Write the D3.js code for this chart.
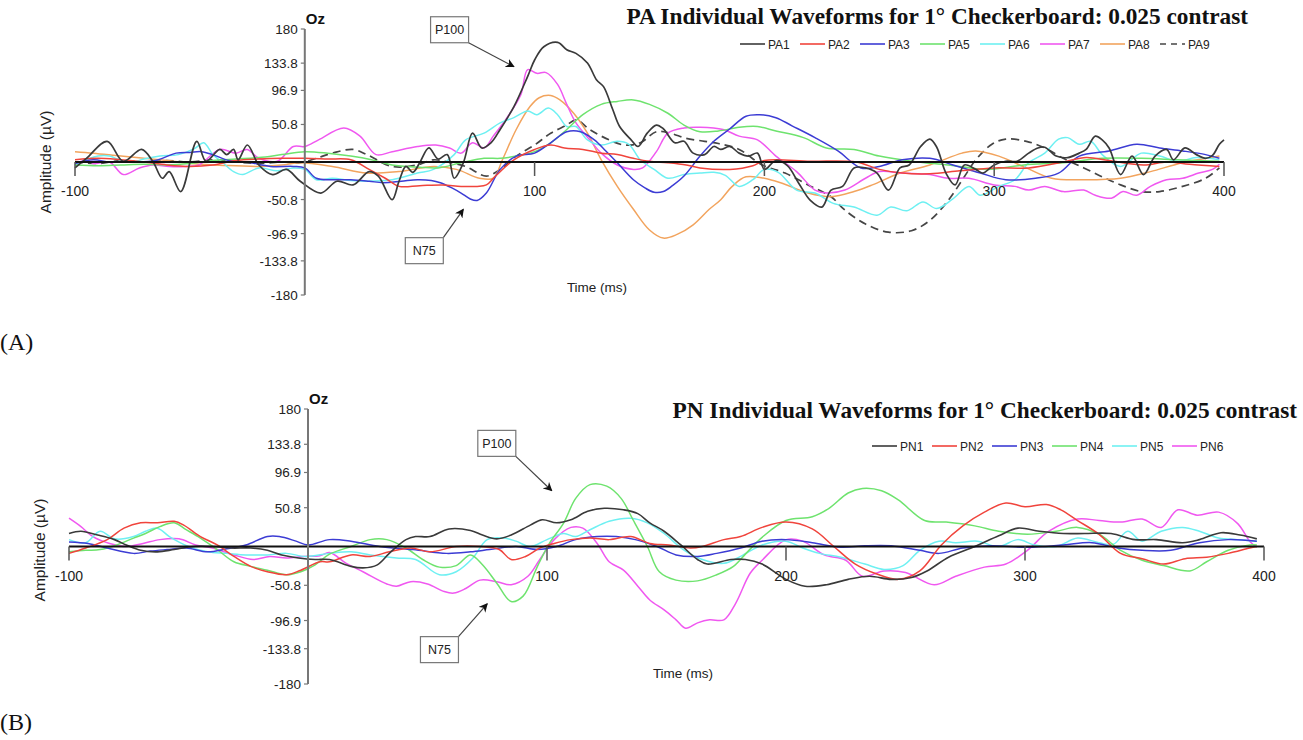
<!DOCTYPE html>
<html>
<head>
<meta charset="utf-8">
<script src="https://cdn.jsdelivr.net/npm/d3@7"></script>
<style>
  body { margin: 0; background: #fff; }
  svg { display: block; }
</style>
</head>
<body>
<svg id="chart" width="1303" height="740"></svg>
<script>
// ---- shared axis values ----
const timeTicks = [-100, 100, 200, 300, 400];
const ampTicks = [180, 133.8, 96.9, 50.8, -50.8, -96.9, -133.8, -180];

// ---- panel A: PA individual waveforms, [time ms, amplitude µV] ----
const paNames = ["PA1", "PA2", "PA3", "PA5", "PA6", "PA7", "PA8", "PA9"];
const PA1 = [[-100,-8],[-95,5],[-86,28],[-79,1],[-71,17],[-66,0],[-62,-22],[-59,-13],[-54,-40],[-47,28],[-43,1],[-37,17],[-34,10],[-31,17],[-29,3],[-25,23],[-20,-4],[-14,-17],[-8,-10],[-2,-26],[7,-42],[14,-26],[21,-31],[28,-13],[32,-19],[38,-51],[41,-26],[44,-6],[47,-14],[50,-1],[54,19],[58,4],[62,10],[65,-22],[69,-1],[73,39],[77,19],[81,26],[85,44],[91,75],[97,116],[100,138],[104,156],[110,162],[114,152],[118,147],[123,134],[127,111],[130,102],[134,71],[137,48],[142,30],[145,21],[149,39],[153,50],[156,45],[161,26],[165,28],[169,12],[174,10],[178,21],[181,17],[185,21],[189,12],[193,8],[197,12],[200,-10],[205,2],[210,-5],[215,-29],[220,-52],[225,-61],[229,-38],[234,-33],[239,-8],[244,-8],[249,-15],[254,-38],[259,-8],[263,-4],[268,21],[272,31],[275,20],[279,-15],[283,-31],[287,-4],[292,-10],[295,-15],[300,-4],[305,1],[310,1],[315,12],[319,19],[322,20],[327,8],[332,6],[337,12],[340,17],[344,35],[347,30],[350,19],[355,-17],[360,8],[365,-17],[370,8],[375,17],[378,3],[383,19],[388,10],[392,5],[395,9],[398,24],[400,30]];
const PA2 = [[-100,3],[-90,5],[-80,3],[-70,0],[-60,-4],[-50,-6],[-40,-4],[-30,2],[-20,4],[-10,5],[0,5],[10,4],[20,3],[28,-10],[35,-22],[41,-33],[50,-32],[60,-31],[68,-33],[75,-33],[79,-31],[83,-19],[91,3],[100,17],[107,23],[113,19],[121,17],[129,12],[136,10],[143,5],[150,1],[158,-1],[166,-4],[172,-8],[185,-10],[195,-5],[200,2],[220,1],[240,0],[250,-10],[260,-15],[272,-16],[285,-12],[300,-8],[315,-8],[330,0],[340,6],[350,2],[365,-4],[375,0],[385,-3],[398,-6]];
const PA3 = [[-100,-2],[-92,3],[-85,0],[-75,0],[-65,2],[-56,12],[-50,13],[-45,14],[-40,10],[-33,2],[-25,0],[-15,-6],[-5,-6],[0,-8],[5,-22],[12,-24],[20,-24],[28,-26],[34,-28],[42,-26],[49,-24],[55,-25],[59,-28],[64,-35],[68,-42],[72,-50],[75,-52],[79,-42],[85,-10],[92,8],[100,12],[107,26],[114,41],[120,41],[126,30],[131,15],[136,-1],[143,-24],[148,-35],[152,-41],[156,-40],[160,-32],[165,-19],[172,8],[178,28],[185,45],[192,62],[198,64],[205,60],[212,49],[222,33],[232,15],[242,-8],[250,-6],[260,3],[272,5],[282,-4],[294,-15],[305,-24],[318,-22],[328,-15],[337,8],[350,15],[362,24],[372,19],[382,15],[392,10],[398,5]];
const PA5 = [[-100,-4],[-90,-5],[-80,-4],[-70,-3],[-60,-4],[-50,-2],[-40,2],[-30,4],[-20,6],[-10,10],[0,14],[10,12],[20,8],[29,3],[38,-4],[50,-7],[58,-8],[68,-1],[78,5],[85,5],[92,8],[100,14],[107,26],[114,44],[121,64],[129,78],[136,82],[143,84],[150,78],[158,66],[165,50],[172,41],[180,42],[189,47],[197,48],[205,42],[217,33],[227,19],[239,17],[250,8],[264,1],[280,-4],[297,-10],[313,-4],[330,-1],[347,5],[364,5],[380,3],[398,1]];
const PA6 = [[-100,-4],[-95,3],[-90,8],[-85,8],[-80,2],[-75,0],[-70,4],[-63,8],[-55,10],[-48,18],[-44,26],[-40,10],[-36,0],[-31,-13],[-27,-17],[-20,-8],[-12,-12],[-5,-8],[0,-10],[5,-24],[12,-22],[20,-25],[27,-26],[38,-24],[49,-15],[56,-10],[65,10],[70,30],[78,39],[85,53],[91,60],[97,69],[101,64],[106,73],[110,64],[114,48],[118,48],[123,30],[129,23],[136,28],[141,24],[146,3],[152,-10],[158,-22],[165,-17],[172,-15],[178,-14],[183,-18],[189,-33],[195,-24],[200,-10],[206,-14],[214,-38],[222,-42],[230,-56],[239,-61],[249,-72],[255,-61],[262,-66],[269,-54],[275,-63],[282,-50],[289,-33],[294,-45],[302,-33],[309,-24],[315,-1],[322,12],[328,31],[332,33],[337,24],[342,28],[347,10],[355,-6],[364,12],[372,8],[380,1],[388,6],[398,3]];
const PA7 = [[-100,-4],[-95,3],[-92,-2],[-85,0],[-79,-17],[-72,-8],[-66,-4],[-59,-6],[-52,-6],[-46,-4],[-37,17],[-30,12],[-25,17],[-20,5],[-12,1],[-5,21],[0,21],[6,30],[17,46],[24,35],[31,10],[38,14],[49,21],[57,23],[63,19],[68,12],[73,26],[78,19],[82,35],[88,60],[94,91],[97,125],[101,120],[105,121],[110,105],[114,78],[118,53],[124,30],[129,12],[136,-4],[143,-10],[147,-8],[153,14],[158,39],[165,46],[172,47],[182,44],[189,35],[197,30],[205,8],[214,-13],[222,-38],[227,-42],[235,-38],[244,-22],[250,-13],[260,-15],[272,-17],[280,-22],[289,-22],[300,-31],[309,-33],[315,-38],[322,-33],[330,-40],[339,-38],[344,-45],[351,-49],[356,-40],[362,-45],[368,-33],[375,-24],[382,-22],[389,-15],[395,-10],[398,-3]];
const PA8 = [[-100,14],[-92,12],[-80,8],[-70,5],[-60,2],[-50,-2],[-40,-4],[-30,-5],[-20,-6],[-10,-4],[-2,-1],[12,-6],[27,-15],[41,-13],[56,-6],[66,-10],[76,-22],[82,-22],[86,3],[92,44],[98,75],[102,87],[107,90],[111,84],[117,66],[123,39],[129,3],[136,-33],[143,-64],[150,-92],[156,-103],[162,-98],[169,-85],[176,-64],[181,-51],[186,-33],[192,-20],[205,-26],[219,-42],[229,-47],[239,-40],[247,-31],[259,-15],[272,-4],[286,12],[292,15],[302,8],[314,-8],[325,-22],[339,-24],[355,-22],[368,-13],[382,-1],[398,8]];
const PA9 = [[-100,0],[-90,-2],[-80,2],[-70,0],[-60,2],[-50,0],[-40,3],[-30,0],[-20,-2],[-10,0],[-2,-1],[5,5],[12,12],[21,17],[27,10],[38,-6],[49,-4],[56,3],[62,0],[70,-6],[79,-19],[85,-10],[92,8],[100,23],[107,39],[114,50],[118,57],[124,44],[131,32],[139,23],[146,26],[153,41],[159,39],[166,32],[174,28],[180,25],[189,17],[199,-4],[209,-15],[219,-31],[229,-47],[235,-65],[244,-84],[254,-95],[264,-93],[272,-79],[280,-52],[287,-20],[292,3],[299,24],[305,31],[314,28],[322,19],[330,5],[339,-8],[347,-20],[355,-31],[364,-40],[372,-40],[382,-33],[392,-22],[398,-8]];

// ---- panel B: PN individual waveforms, [time ms, amplitude µV] ----
const pnNames = ["PN1", "PN2", "PN3", "PN4", "PN5", "PN6"];
const PN1 = [[-100,17],[-95,20],[-88,15],[-81,9],[-76,2],[-70,-5],[-63,-7],[-56,-4],[-48,0],[-40,0],[-32,-2],[-24,-2],[-17,-5],[-11,-11],[-4,-15],[3,-17],[9,-17],[18,-26],[23,-28],[29,-24],[34,-9],[41,9],[45,13],[51,13],[59,23],[68,21],[73,15],[79,10],[85,15],[93,28],[98,35],[104,31],[110,35],[117,46],[124,50],[132,48],[138,43],[143,31],[149,20],[156,2],[163,-17],[167,-23],[177,-17],[183,-17],[190,-23],[200,-43],[208,-52],[217,-50],[226,-43],[235,-39],[244,-43],[252,-41],[259,-32],[268,-14],[279,0],[289,14],[297,24],[306,20],[316,17],[325,17],[336,17],[346,9],[355,9],[366,5],[373,9],[382,18],[390,15],[397,10]];
const PN2 = [[-100,-9],[-93,-2],[-84,9],[-77,24],[-70,31],[-63,31],[-56,33],[-52,28],[-45,13],[-38,2],[-31,-13],[-24,-26],[-17,-33],[-9,-37],[-3,-31],[5,-20],[9,-20],[18,-11],[26,-13],[34,-7],[43,-2],[51,-7],[62,0],[72,0],[80,-4],[85,-17],[91,-13],[97,-2],[103,4],[110,9],[118,11],[126,9],[135,13],[143,4],[151,2],[160,-2],[165,0],[174,9],[181,13],[190,25],[200,32],[211,23],[220,0],[229,-23],[238,-36],[247,-43],[256,-32],[265,2],[274,27],[283,45],[292,57],[300,52],[309,55],[315,48],[322,34],[331,16],[340,-9],[349,-16],[358,-23],[367,-16],[376,-14],[385,-9],[394,-2],[397,0]];
const PN3 = [[-100,6],[-92,4],[-84,-2],[-73,-9],[-66,-6],[-59,-4],[-51,-2],[-42,-7],[-34,-3],[-26,2],[-17,13],[-12,13],[-5,7],[0,2],[9,9],[18,7],[30,0],[44,-4],[58,-9],[68,-7],[76,-4],[87,0],[96,-4],[104,0],[112,9],[121,13],[129,13],[137,9],[146,0],[154,-11],[163,-13],[171,-9],[181,-2],[190,7],[200,9],[211,5],[223,-1],[233,1],[244,1],[256,-5],[264,-9],[274,-2],[286,1],[301,-1],[316,2],[328,5],[339,-2],[349,-5],[361,-5],[373,5],[385,9],[397,7]];
const PN4 = [[-100,-7],[-93,-5],[-87,-4],[-80,2],[-73,11],[-68,17],[-62,26],[-56,31],[-51,22],[-45,11],[-38,-4],[-31,-20],[-24,-26],[-17,-31],[-9,-37],[-3,-33],[3,-24],[9,-10],[18,0],[26,9],[33,9],[41,-2],[48,-17],[55,-27],[62,-25],[68,-11],[73,-24],[79,-48],[85,-72],[90,-65],[96,-26],[101,4],[107,31],[112,63],[118,81],[125,79],[131,63],[136,35],[142,0],[147,-33],[154,-44],[163,-45],[171,-37],[178,-26],[183,-10],[190,12],[200,34],[211,39],[218,50],[226,70],[232,76],[240,73],[247,61],[258,34],[267,32],[279,27],[289,20],[301,16],[313,20],[322,25],[331,16],[340,-5],[349,-18],[358,-25],[369,-32],[376,-20],[385,-5],[394,2],[397,2]];
const PN5 = [[-100,9],[-93,5],[-87,20],[-81,10],[-73,13],[-68,20],[-63,24],[-58,13],[-50,0],[-42,-7],[-34,-9],[-26,-11],[-17,-11],[-9,-9],[-1,-13],[9,-9],[18,-7],[26,-11],[37,-15],[45,-17],[55,-37],[62,-33],[69,-15],[75,9],[82,11],[87,7],[93,0],[100,9],[107,17],[112,13],[118,22],[126,33],[135,37],[142,31],[149,17],[157,-4],[165,-17],[174,-22],[181,-13],[190,2],[200,7],[207,-2],[214,-9],[223,-14],[233,-23],[241,-30],[249,-25],[256,-5],[264,7],[271,5],[280,7],[289,0],[297,9],[304,2],[313,0],[322,11],[331,5],[337,3],[343,20],[349,7],[357,20],[366,25],[373,20],[381,11],[389,9],[397,7]];
const PN6 = [[-100,37],[-95,26],[-90,13],[-83,4],[-76,0],[-69,4],[-62,9],[-54,10],[-47,2],[-40,-2],[-31,-11],[-23,-17],[-16,-13],[-9,-15],[-2,-13],[5,-12],[9,-8],[16,-22],[23,-33],[33,-49],[37,-52],[43,-46],[50,-49],[57,-59],[61,-61],[66,-55],[72,-44],[79,-46],[85,-50],[92,-39],[97,-17],[103,9],[110,25],[115,24],[121,4],[126,-20],[132,-31],[138,-52],[143,-70],[149,-83],[154,-96],[158,-107],[163,-100],[168,-96],[174,-96],[179,-74],[185,-35],[190,-18],[200,9],[207,7],[216,-11],[225,-18],[232,-39],[241,-32],[250,-34],[262,-50],[271,-39],[283,-27],[292,-23],[301,-5],[310,20],[322,36],[331,34],[340,32],[349,36],[357,25],[364,48],[372,41],[381,45],[389,30],[394,7],[397,-1]];

// ---- styling ----
const sans = "'Liberation Sans', Arial, Helvetica, sans-serif";
const narrow = "'Liberation Sans Narrow', 'Arial Narrow', 'Liberation Sans', Arial, sans-serif";
const serif = "'Liberation Serif', 'Times New Roman', Times, serif";

const paStyles = [
  { color: "#3a3a3a", dash: null, width: 1.7 },
  { color: "#f0443c", dash: null, width: 1.5 },
  { color: "#3c3cd4", dash: null, width: 1.5 },
  { color: "#6ee36e", dash: null, width: 1.5 },
  { color: "#6ef0f2", dash: null, width: 1.5 },
  { color: "#f058f0", dash: null, width: 1.5 },
  { color: "#f2a45e", dash: null, width: 1.5 },
  { color: "#454545", dash: "8,5", width: 1.7 }
];
const pnStyles = [
  { color: "#3a3a3a", dash: null, width: 1.6 },
  { color: "#f0443c", dash: null, width: 1.5 },
  { color: "#3c3cd4", dash: null, width: 1.5 },
  { color: "#6ee36e", dash: null, width: 1.5 },
  { color: "#6ef0f2", dash: null, width: 1.5 },
  { color: "#f058f0", dash: null, width: 1.5 }
];

const svg = d3.select("#chart");

const defs = svg.append("defs");
defs.append("marker")
  .attr("id", "arrowHead")
  .attr("viewBox", "0 0 10 10")
  .attr("refX", 9).attr("refY", 5)
  .attr("markerWidth", 9).attr("markerHeight", 9)
  .attr("markerUnits", "userSpaceOnUse")
  .attr("orient", "auto")
  .append("path")
  .attr("d", "M0,0 L10,5 L0,10 L3,5 Z")
  .attr("fill", "#111");

function drawPanel(cfg) {
  const g = svg.append("g");
  const x = d3.scaleLinear().domain([-100, 400]).range(cfg.xRange);
  const y = d3.scaleLinear().domain([-180, 180]).range(cfg.yRange);
  const x0 = x(0), y0 = y(0);

  // waveforms
  const line = d3.line()
    .x(d => x(d[0]))
    .y(d => y(d[1]))
    .curve(d3.curveCatmullRom.alpha(0.5));

  const order = cfg.series.map((s, i) => i).reverse();
  order.forEach(i => {
    const st = cfg.styles[i];
    g.append("path")
      .datum(cfg.series[i])
      .attr("d", line)
      .attr("fill", "none")
      .attr("stroke", st.color)
      .attr("stroke-width", st.width)
      .attr("stroke-dasharray", st.dash)
      .attr("stroke-linejoin", "round");
  });

  // time axis drawn along the zero line
  g.append("line")
    .attr("x1", x(-100)).attr("x2", x(400))
    .attr("y1", y0).attr("y2", y0)
    .attr("stroke", "#111").attr("stroke-width", 2);
  g.selectAll(".xt").data(timeTicks).enter().append("line")
    .attr("x1", d => x(d)).attr("x2", d => x(d))
    .attr("y1", y0).attr("y2", y0 + 14)
    .attr("stroke", "#555").attr("stroke-width", 1.5);
  g.selectAll(".xl").data(timeTicks).enter().append("text")
    .attr("x", d => x(d))
    .attr("y", d => y0 + 34)
    .attr("text-anchor", "middle")
    .attr("font-family", sans).attr("font-size", 14).attr("fill", "#222")
    .text(d => d);

  // amplitude axis at t = 0
  g.append("line")
    .attr("x1", x0).attr("x2", x0)
    .attr("y1", y(180)).attr("y2", y(-180))
    .attr("stroke", "#777").attr("stroke-width", 2);
  g.selectAll(".yt").data(ampTicks).enter().append("line")
    .attr("x1", x0 - 4).attr("x2", x0)
    .attr("y1", d => y(d)).attr("y2", d => y(d))
    .attr("stroke", "#777").attr("stroke-width", 1.2);
  g.selectAll(".yl").data(ampTicks).enter().append("text")
    .attr("x", x0 - 7)
    .attr("y", d => y(d) + 5)
    .attr("text-anchor", "end")
    .attr("font-family", sans).attr("font-size", 13.5).attr("fill", "#222")
    .text(d => d);

  g.append("text")
    .attr("x", x0 + 1).attr("y", y(180) - 5)
    .attr("font-family", sans).attr("font-weight", "bold").attr("font-size", 15)
    .attr("fill", "#111").text("Oz");

  // axis titles
  g.append("text")
    .attr("transform", `translate(${cfg.ampLabel[0]},${cfg.ampLabel[1]}) rotate(-90)`)
    .attr("text-anchor", "middle")
    .attr("font-family", sans).attr("font-size", 15.5).attr("fill", "#222")
    .text("Amplitude (µV)");
  g.append("text")
    .attr("x", cfg.timeLabel[0]).attr("y", cfg.timeLabel[1])
    .attr("text-anchor", "middle")
    .attr("font-family", sans).attr("font-size", 13.5).attr("fill", "#222")
    .text("Time (ms)");

  // title
  g.append("text")
    .attr("x", cfg.titlePos[0]).attr("y", cfg.titlePos[1])
    .attr("text-anchor", "end")
    .attr("font-family", serif).attr("font-weight", "bold").attr("font-size", 23.3)
    .attr("fill", "#111")
    .text(cfg.title);

  // legend
  const lg = g.append("g").attr("transform", `translate(${cfg.legendPos[0]},${cfg.legendPos[1]})`);
  cfg.names.forEach((name, i) => {
    const st = cfg.styles[i];
    const item = lg.append("g").attr("transform", `translate(${i * cfg.legendStep},0)`);
    item.append("line")
      .attr("x1", 0).attr("x2", 25).attr("y1", 0).attr("y2", 0)
      .attr("stroke", st.color).attr("stroke-width", 1.6)
      .attr("stroke-dasharray", st.dash ? "6,5" : null);
    item.append("text")
      .attr("x", 28).attr("y", 4.5)
      .attr("font-family", narrow).attr("font-size", 12).attr("fill", "#222")
      .text(name);
  });

  // component annotations
  cfg.notes.forEach(n => {
    const cx = x(n.at[0]), cy = y(n.at[1]);
    const w = 38, h = 26;
    const corner = [cx + w / 2, n.from === "bottom" ? cy + h / 2 : cy - h / 2];
    g.append("line")
      .attr("x1", corner[0]).attr("y1", corner[1])
      .attr("x2", x(n.tip[0])).attr("y2", y(n.tip[1]))
      .attr("stroke", "#444").attr("stroke-width", 1.2)
      .attr("marker-end", "url(#arrowHead)");
    g.append("rect")
      .attr("x", cx - w / 2).attr("y", cy - h / 2)
      .attr("width", w).attr("height", h)
      .attr("fill", "#fff").attr("stroke", "#777").attr("stroke-width", 1.2);
    g.append("text")
      .attr("x", cx).attr("y", cy + 4.5)
      .attr("text-anchor", "middle")
      .attr("font-family", narrow).attr("font-size", 12.5).attr("fill", "#222")
      .text(n.label);
  });

  // panel letter
  g.append("text")
    .attr("x", 0).attr("y", cfg.letterY)
    .attr("font-family", serif).attr("font-size", 24).attr("fill", "#111")
    .text(cfg.letter);
}

drawPanel({
  xRange: [75, 1224], yRange: [295, 29],
  series: [PA1, PA2, PA3, PA5, PA6, PA7, PA8, PA9],
  names: paNames, styles: paStyles,
  title: "PA Individual Waveforms for 1° Checkerboard: 0.025 contrast",
  titlePos: [1248, 24],
  legendPos: [740, 44], legendStep: 60,
  ampLabel: [51, 162], timeLabel: [597, 292],
  notes: [
    { label: "P100", at: [63, 179], tip: [91, 129], from: "bottom" },
    { label: "N75", at: [52, -120], tip: [69, -64], from: "top" }
  ],
  letter: "(A)", letterY: 350
});

drawPanel({
  xRange: [69, 1264], yRange: [684, 409],
  series: [PN1, PN2, PN3, PN4, PN5, PN6],
  names: pnNames, styles: pnStyles,
  title: "PN Individual Waveforms for 1° Checkerboard: 0.025 contrast",
  titlePos: [1297, 418],
  legendPos: [872, 446], legendStep: 60,
  ampLabel: [45, 550], timeLabel: [683, 678],
  notes: [
    { label: "P100", at: [79, 135], tip: [102, 73], from: "bottom" },
    { label: "N75", at: [55, -135], tip: [75, -75], from: "top" }
  ],
  letter: "(B)", letterY: 730
});
</script>
</body>
</html>
